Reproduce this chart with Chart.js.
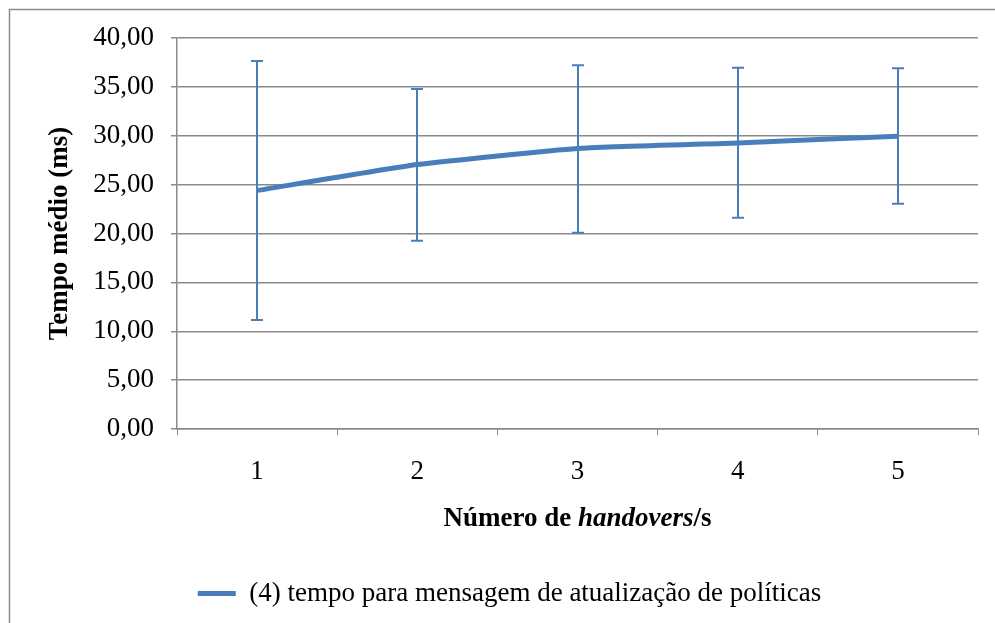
<!DOCTYPE html>
<html>
<head>
<meta charset="utf-8">
<script src="https://cdn.jsdelivr.net/npm/chart.js@4"></script>
<style>
  html, body { margin: 0; padding: 0; background: #fff; }
  #wrap { position: relative; width: 995px; height: 623px; }
</style>
</head>
<body>
<div id="wrap"><canvas id="chart" width="995" height="623"></canvas></div>
<script>
// Handover rate vs. mean time of the policy-update message
const categories = ['1', '2', '3', '4', '5'];
const meanTime = [24.4, 27.05, 28.7, 29.27, 29.95];
const errLow = [11.15, 19.25, 20.07, 21.6, 23.05];
const errHigh = [37.64, 34.77, 37.2, 36.96, 36.9];
const seriesLabel = '(4) tempo para mensagem de atualização de políticas';

const BLUE = '#4a7ebb';
const GRID = '#8a8a8a';
const FONT = "'Liberation Serif', 'Times New Roman', serif";
const FONT_SIZE = 27;

// outer frame of the chart area
const framePlugin = {
    id: 'frame',
    beforeDraw(chart) {
        const ctx = chart.ctx;
        ctx.save();
        ctx.strokeStyle = '#8a8a8a';
        ctx.lineWidth = 1.5;
        ctx.strokeRect(9.5, 9.5, 1100, 700);
        ctx.restore();
    },
    // legend sits a little right of the canvas centre
    afterLayout(chart) {
        chart.legend.left += 16;
        chart.legend.right += 16;
    }
};

// vertical error bars with caps
const errorBarPlugin = {
    id: 'errorBars',
    afterDatasetsDraw(chart) {
        const ctx = chart.ctx;
        const x = chart.scales.x;
        const y = chart.scales.y;
        ctx.save();
        ctx.strokeStyle = BLUE;
        ctx.lineWidth = 2;
        categories.forEach((c, i) => {
            const px = Math.round(x.getPixelForValue(i));
            const top = y.getPixelForValue(errHigh[i]);
            const bot = y.getPixelForValue(errLow[i]);
            ctx.beginPath();
            ctx.moveTo(px, top);
            ctx.lineTo(px, bot);
            ctx.moveTo(px - 6, top);
            ctx.lineTo(px + 6, top);
            ctx.moveTo(px - 6, bot);
            ctx.lineTo(px + 6, bot);
            ctx.stroke();
        });
        ctx.restore();
    }
};

// x axis title with the italic word
const xTitlePlugin = {
    id: 'xTitle',
    afterDraw(chart) {
        const ctx = chart.ctx;
        const area = chart.chartArea;
        const parts = [
            { t: 'Número de ', f: `bold ${FONT_SIZE}px ${FONT}` },
            { t: 'handovers', f: `italic bold ${FONT_SIZE}px ${FONT}` },
            { t: '/s', f: `bold ${FONT_SIZE}px ${FONT}` }
        ];
        ctx.save();
        let total = 0;
        parts.forEach(p => { ctx.font = p.f; p.w = ctx.measureText(p.t).width; total += p.w; });
        let cx = (area.left + area.right) / 2 - total / 2;
        ctx.fillStyle = '#000';
        ctx.textBaseline = 'middle';
        parts.forEach(p => {
            ctx.font = p.f;
            ctx.fillText(p.t, cx, 519);
            cx += p.w;
        });
        ctx.restore();
    }
};

new Chart(document.getElementById('chart'), {
    type: 'line',
    data: {
        labels: categories,
        datasets: [{
            label: seriesLabel,
            data: meanTime,
            borderColor: BLUE,
            backgroundColor: BLUE,
            borderWidth: 5,
            pointRadius: 0,
            tension: 0.15,
            fill: false
        }]
    },
    options: {
        responsive: false,
        animation: false,
        layout: { padding: { top: 38, left: 9, right: 17, bottom: 6 } },
        plugins: {
            tooltip: { enabled: false },
            legend: {
                position: 'bottom',
                labels: {
                    color: '#000',
                    font: { family: FONT, size: FONT_SIZE },
                    boxWidth: 38,
                    boxHeight: 5,
                    padding: 12,
                    generateLabels(chart) {
                        return Chart.defaults.plugins.legend.labels.generateLabels(chart)
                            .map(l => Object.assign(l, { lineWidth: 0 }));
                    }
                }
            }
        },
        scales: {
            x: {
                offset: true,
                grid: {
                    offset: true,
                    drawOnChartArea: false,
                    color: GRID,
                    tickLength: 6
                },
                border: { color: GRID, width: 1.5 },
                ticks: {
                    color: '#000',
                    font: { family: FONT, size: FONT_SIZE },
                    padding: 21
                },
                afterFit(scale) { scale.height = 139; }
            },
            y: {
                min: 0,
                max: 40,
                ticks: {
                    stepSize: 5,
                    color: '#000',
                    font: { family: FONT, size: FONT_SIZE },
                    padding: 17,
                    callback: v => v.toFixed(2).replace('.', ',')
                },
                grid: { color: GRID, lineWidth: 1.5, tickLength: 6 },
                border: { color: GRID, width: 1.5 },
                title: {
                    display: true,
                    text: 'Tempo médio (ms)',
                    color: '#000',
                    font: { family: FONT, size: FONT_SIZE, weight: 'bold' },
                    padding: { top: 35, bottom: 0 }
                },
                afterFit(scale) { scale.width = 168; }
            }
        }
    },
    plugins: [framePlugin, errorBarPlugin, xTitlePlugin]
});
</script>
</body>
</html>
